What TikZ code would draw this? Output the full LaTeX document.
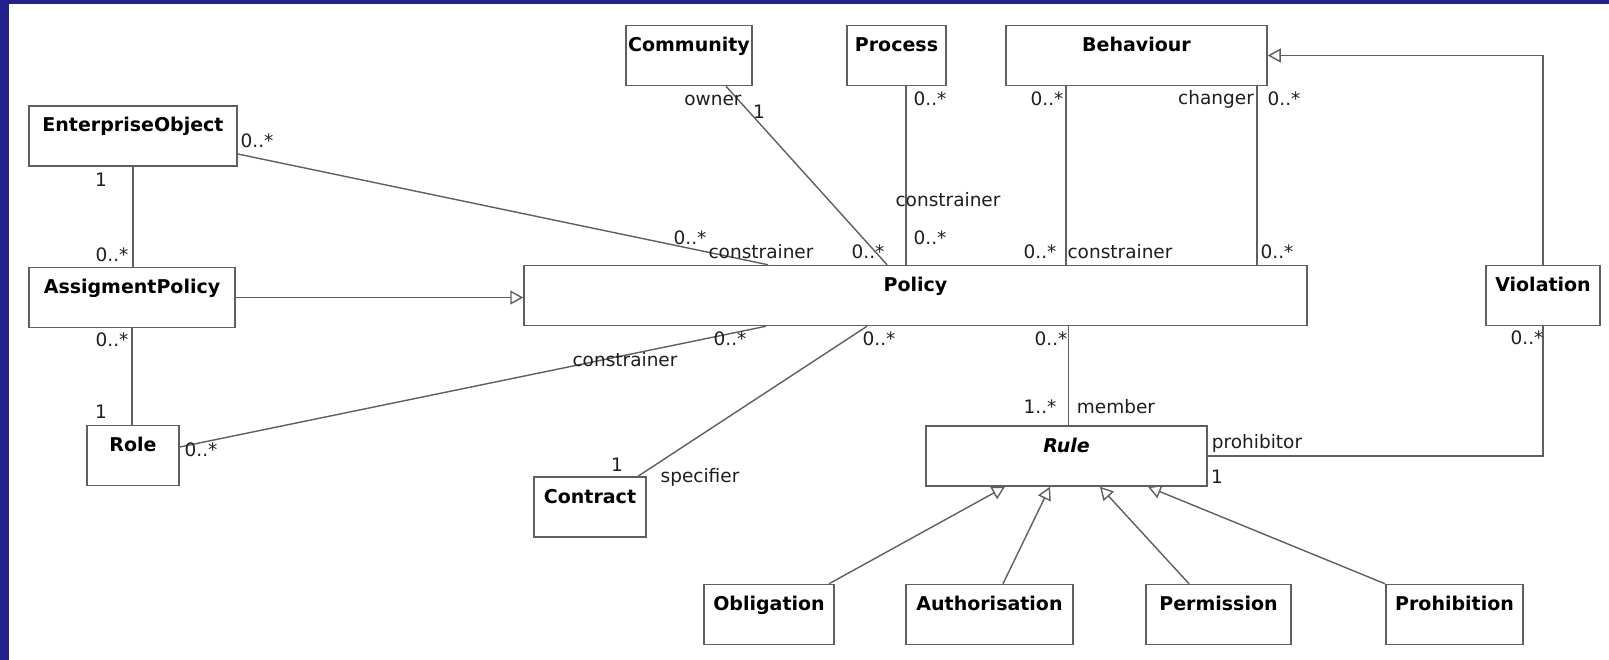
\documentclass[tikz,border=0pt]{standalone}
\usepackage{fontspec}
\setmainfont{DejaVu Sans}
\usetikzlibrary{arrows.meta}
\definecolor{framec}{RGB}{36,32,142}
\definecolor{linec}{RGB}{95,95,95}
\definecolor{boxc}{RGB}{95,95,95}
\definecolor{labc}{RGB}{30,30,30}
\tikzset{
 cls/.style={draw=boxc, line width=1.5pt, fill=white, inner sep=0pt, minimum height=60pt,
   text height=26pt, text depth=34pt, font=\fontsize{19}{21}\selectfont\bfseries},
 lbl/.style={inner sep=0pt, font=\fontsize{18.5}{20}\selectfont, text=labc},
 conn/.style={draw=linec, line width=1.4pt},
 gen/.style={conn, -{Triangle[open, length=13pt, width=14pt]}},
}
\begin{document}
\begin{tikzpicture}[x=1pt,y=-1pt]
\useasboundingbox (0,0) rectangle (1609,660);
\fill[white] (0,0) rectangle (1609,660);
\fill[framec] (0,0) rectangle (9,660);
\fill[framec] (0,0) rectangle (1609,4);

% classes
\node[cls, minimum width=208pt] (EO) at (133,136) {EnterpriseObject};
\node[cls, minimum width=206pt] (AP) at (132,297.5) {AssigmentPolicy};
\node[cls, minimum width=92pt] (Role) at (133,455.5) {Role};
\node[cls, minimum width=126pt] (Comm) at (689,55.5) {Community};
\node[cls, minimum width=99pt] (Proc) at (896.5,55.5) {Process};
\node[cls, minimum width=261pt] (Beh) at (1136.5,55.5) {Behaviour};
\node[cls, minimum width=783pt] (Pol) at (915.5,295.5) {Policy};
\node[cls, minimum width=114pt] (Viol) at (1543,295.5) {Violation};
\node[cls, minimum width=112pt] (Contr) at (590,507) {Contract};
\node[cls, minimum width=281pt] (Rule) at (1066.5,456) {\itshape Rule};
\node[cls, minimum width=130pt] (Obl) at (769,614.5) {Obligation};
\node[cls, minimum width=167pt] (Auth) at (989.5,614.5) {Authorisation};
\node[cls, minimum width=145pt] (Perm) at (1218.5,614.5) {Permission};
\node[cls, minimum width=137pt] (Proh) at (1454.5,614.5) {Prohibition};

% connectors
\draw[conn] (EO.south) -- (EO.south |- AP.north);
\draw[conn] (AP.south) -- (AP.south |- Role.north);
\draw[gen] (AP.east) -- (AP.east -| Pol.west);
\draw[conn] ([yshift=-18pt]EO.east) -- ([xshift=-147.5pt]Pol.north);
\draw[conn] ([xshift=37pt]Comm.south) -- ([xshift=-28.5pt]Pol.north);
\draw[conn] ([xshift=9.5pt]Proc.south) -- ([xshift=9.5pt]Proc.south |- Pol.north);
\draw[conn] ([xshift=-70.5pt]Beh.south) -- ([xshift=-70.5pt]Beh.south |- Pol.north);
\draw[conn] ([xshift=120.5pt]Beh.south) -- ([xshift=120.5pt]Beh.south |- Pol.north);
\draw[gen] (Viol.north) |- (Beh.east);
\draw[conn] ([xshift=2pt]Rule.north) -- ([xshift=2pt]Rule.north |- Pol.south);
\draw[conn] ([xshift=-48.5pt]Pol.south) -- ([xshift=48pt]Contr.north);
\draw[conn] ([yshift=8.5pt]Role.east) -- ([xshift=-149.5pt]Pol.south);
\draw[conn] (Rule.east) -| (Viol.south);
\draw[gen] ([xshift=60pt]Obl.north) -- ([xshift=-61.5pt]Rule.south);
\draw[gen] ([xshift=13.5pt]Auth.north) -- ([xshift=-16.5pt]Rule.south);
\draw[gen] ([xshift=-29.5pt]Perm.north) -- ([xshift=33.5pt]Rule.south);
\draw[gen] ([xshift=-69.5pt]Proh.north) -- ([xshift=81.5pt]Rule.south);

% role names and multiplicities
\node[lbl] (l1) at (101,180) {1};
\node[lbl] (l2) at (112,255) {0..*};
\node[lbl] (l3) at (112,340) {0..*};
\node[lbl] (l4) at (101,412) {1};
\node[lbl] (l5) at (201,450) {0..*};
\node[lbl] (l6) at (257,141) {0..*};
\node[lbl] (l7) at (690,238) {0..*};
\node[lbl] (l8) at (761,252) {constrainer};
\node[lbl] (l9) at (868,252) {0..*};
\node[lbl] (l10) at (713,100) {owner};
\node[lbl] (l11) at (759,112) {1};
\node[lbl] (l12) at (930,99) {0..*};
\node[lbl] (l13) at (948,200) {constrainer};
\node[lbl] (l14) at (930,238) {0..*};
\node[lbl] (l15) at (1047,99) {0..*};
\node[lbl] (l16) at (1040,252) {0..*};
\node[lbl] (l17) at (1120,252) {constrainer};
\node[lbl] (l18) at (1216,99) {changer};
\node[lbl] (l19) at (1284,99) {0..*};
\node[lbl] (l20) at (1277,252) {0..*};
\node[lbl] (l21) at (730,339) {0..*};
\node[lbl] (l22) at (625,360) {constrainer};
\node[lbl] (l23) at (879,339) {0..*};
\node[lbl] (l24) at (617,465) {1};
\node[lbl] (l25) at (700,477) {specifier};
\node[lbl] (l26) at (1051,339) {0..*};
\node[lbl] (l27) at (1040,407) {1..*};
\node[lbl] (l28) at (1116,407) {member};
\node[lbl] (l29) at (1257,443) {prohibitor};
\node[lbl] (l30) at (1217,477) {1};
\node[lbl] (l31) at (1527,338) {0..*};
\end{tikzpicture}
\end{document}
